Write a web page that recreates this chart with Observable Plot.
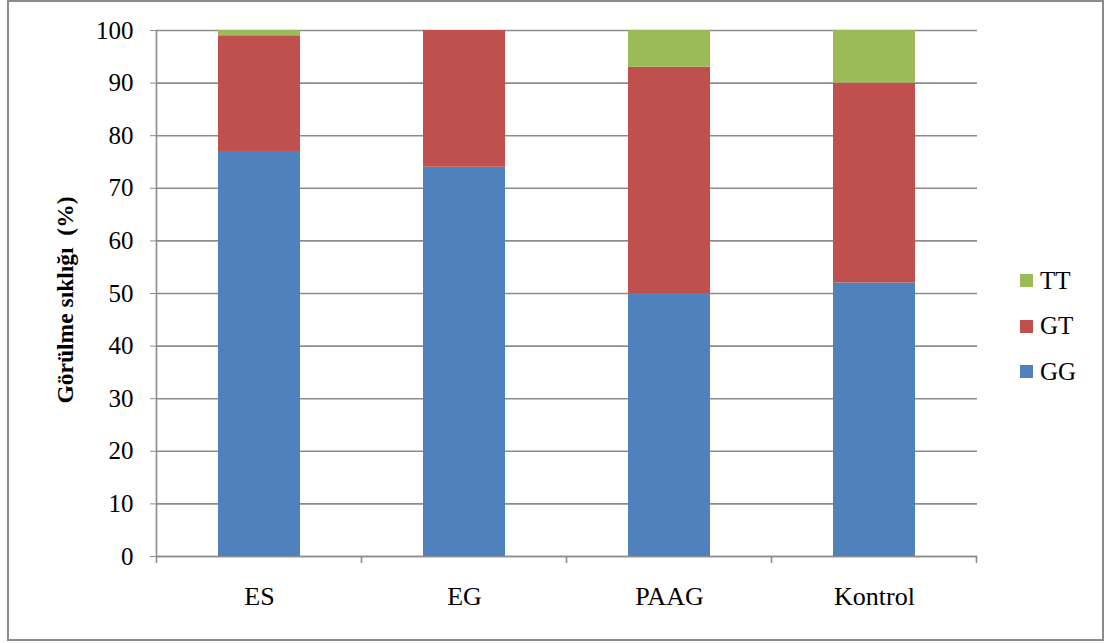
<!DOCTYPE html>
<html>
<head>
<meta charset="utf-8">
<script src="https://cdn.jsdelivr.net/npm/d3@7"></script>
<script src="https://cdn.jsdelivr.net/npm/@observablehq/plot@0.6"></script>
<style>
  html, body { margin: 0; padding: 0; background: #fff; font-family: 'Liberation Serif', serif; }
  #wrap { position: relative; width: 1105px; height: 643px; font-family: 'Liberation Serif', serif; }
  #frame { position: absolute; left: 7px; top: 0px; width: 1093px; height: 637px; border: 2px solid #8c8c8c; box-sizing: content-box; pointer-events: none; }
  #legend { position: absolute; left: 1020px; top: 258px; font-size: 25px; color: #000; font-family: 'Liberation Serif', serif; }
  .item { display: flex; align-items: center; height: 45.5px; }
  .sw { width: 13px; height: 13px; margin-right: 7px; }
</style>
</head>
<body>
<div id="wrap"><div id="frame"></div><div id="legend"></div></div>
<script>
const categories = ["ES", "EG", "PAAG", "Kontrol"];
const genotypes = ["GG", "GT", "TT"];
const GG = [77, 74, 50, 52];
const GT = [22, 26, 43, 38];
const TT = [1, 0, 7, 10];
const colors = ["#4F81BD", "#C0504D", "#9BBB59"];
const yTicks = [0, 10, 20, 30, 40, 50, 60, 70, 80, 90, 100];
const yLabel = "Görülme sıklığı  (%)";

const series = {GG, GT, TT};
const data = [];
categories.forEach((c, i) => genotypes.forEach(g => data.push({cat: c, geno: g, value: series[g][i]})));

const serif = "'Liberation Serif', serif";
const gray = "#8c8c8c";
const plot = Plot.plot({
  width: 1105,
  height: 643,
  marginLeft: 156,
  marginRight: 128,
  marginTop: 30,
  marginBottom: 87,
  style: {fontFamily: serif, fontSize: "25px", background: "transparent", color: "#000"},
  x: {domain: categories, paddingInner: 0.6, paddingOuter: 0.3, label: null},
  y: {domain: [0, 100], label: null},
  color: {domain: genotypes, range: colors},
  marks: [
    Plot.gridY(yTicks, {stroke: gray, strokeOpacity: 1, strokeWidth: 1.6}),
    Plot.barY(data, {x: "cat", y: "value", fill: "geno"}),
    Plot.ruleY([0], {stroke: gray, strokeWidth: 1.6}),
    Plot.axisY(yTicks, {tickSize: 6, tickPadding: 17, stroke: gray, fill: "#000", fontSize: 25, label: null}),
    Plot.axisX({tickSize: 0, tickPadding: 30, fill: "#000", fontSize: 26, label: null})
  ]
});

document.getElementById("wrap").prepend(plot);
plot.style.position = "absolute";
plot.style.left = "0";
plot.style.top = "0";

// axis line + category boundary ticks, from the plot's own scales
const xs = plot.scale("x"), ys = plot.scale("y");
const svg = d3.select(plot);
const y0 = ys.apply(0), y100 = ys.apply(100);
const off = (xs.step - xs.bandwidth) / 2;
const bounds = categories.map(c => xs.apply(c) - off);
bounds.push(xs.apply(categories[categories.length - 1]) + xs.bandwidth + off);
const g = svg.append("g").attr("stroke", gray).attr("stroke-width", 1.6);
g.append("line").attr("x1", bounds[0]).attr("x2", bounds[0]).attr("y1", y100).attr("y2", y0);
g.selectAll("line.b").data(bounds).join("line").attr("class", "b")
  .attr("x1", d => d).attr("x2", d => d).attr("y1", y0).attr("y2", y0 + 7);

// y axis title
svg.append("text")
  .attr("transform", `translate(73,${(y0 + y100) / 2 + 7}) rotate(-90)`)
  .attr("text-anchor", "middle")
  .attr("font-weight", "bold")
  .attr("font-size", 23.5)
  .attr("fill", "#000")
  .text(yLabel);

svg.selectAll("text").attr("font-family", serif).style("font-family", serif);

// legend (top to bottom: TT, GT, GG)
const legend = d3.select("#legend");
genotypes.slice().reverse().forEach(gn => {
  const it = legend.append("div").attr("class", "item");
  it.append("div").attr("class", "sw").style("background", colors[genotypes.indexOf(gn)]);
  it.append("span").style("font-family", serif).text(gn);
});
</script>
</body>
</html>
